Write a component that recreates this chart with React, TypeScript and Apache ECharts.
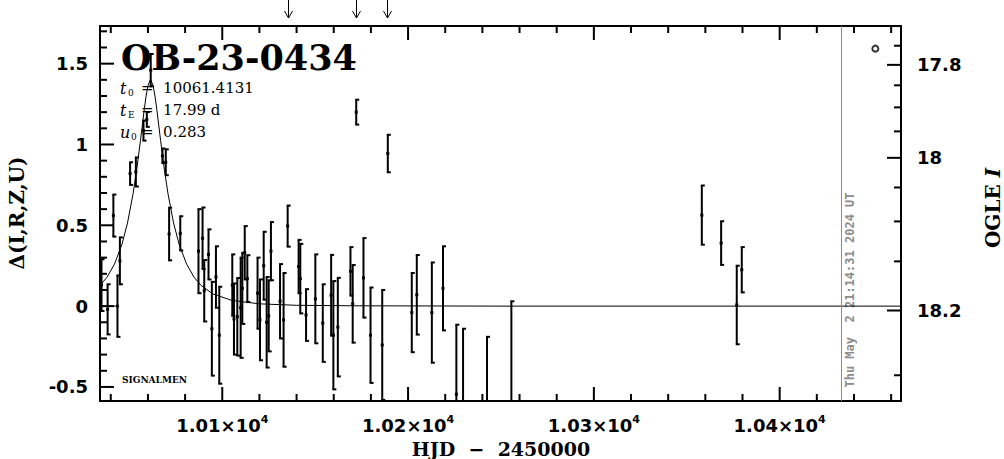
import React, { useEffect, useRef } from 'react';
import * as echarts from 'echarts';

// ---- axis ranges ----
const X_MIN = 10034.2;
const X_MAX = 10465.3;
const Y_MIN = -0.587;
const Y_MAX = 1.733;

// ---- ticks ----
const X_MAJOR = [10100, 10200, 10300, 10400];
const X_MINOR = [10040, 10060, 10080, 10120, 10140, 10160, 10180, 10220, 10240, 10260, 10280, 10320, 10340, 10360, 10380, 10420, 10440, 10460];
const Y_MAJOR = [-0.5, 0, 0.5, 1, 1.5];
const Y_MINOR = [-0.4, -0.3, -0.2, -0.1, 0.1, 0.2, 0.3, 0.4, 0.6, 0.7, 0.8, 0.9, 1.1, 1.2, 1.3, 1.4, 1.6, 1.7];
const MAG_MAJOR = [17.8, 18, 18.2];
const MAG_MINOR = [17.75, 17.85, 17.9, 17.95, 18.05, 18.1, 18.15, 18.25];
// right-axis scale: OGLE I magnitude vs. Δ (blended source)
const MAG_BASE = 18.196;
const SRC_FRAC = 0.149;

// ---- photometry (HJD-2450000, Δ mag, error) ----
const OBS_T = [
  10035.0, 10038.3, 10041.4, 10043.6, 10044.9, 10050.4, 10053.5, 10057.6, 10059.4, 10061.5,
  10067.8, 10069.6, 10071.4, 10077.4, 10087.2, 10089.4, 10090.3, 10092.6, 10094.4, 10096.6,
  10098.4, 10105.4, 10106.3, 10108.1, 10109.9, 10110.8, 10112.1, 10113.5, 10119.0, 10120.3,
  10122.3, 10123.9, 10125.0, 10126.2, 10131.1, 10133.0, 10135.2, 10141.1, 10142.0, 10145.1,
  10150.1, 10154.1, 10158.6, 10159.8, 10162.2, 10169.0, 10170.2, 10172.1, 10176.0, 10179.8,
  10186.1, 10189.1, 10202.0, 10204.7, 10212.8, 10218.8, 10226.0, 10229.6, 10242.5, 10255.6,
  10358.1, 10368.5, 10376.9, 10379.6,
];
const OBS_D = [
  0.13, -0.02, 0.56, 0.0, 0.28, 0.82, 0.83, 1.086, 1.155, 1.46,
  0.93, 0.89, 0.446, 0.45, 0.34, 0.42, 0.095, 0.32, -0.14, 0.18,
  -0.18, 0.13, -0.08, -0.066, -0.01, 0.11, 0.33, 0.17, 0.08, -0.085,
  0.25, -0.1, -0.06, 0.34, 0.03, -0.085, 0.495, 0.245, 0.17, -0.055,
  0.045, -0.105, 0.067, -0.18, -0.13, 0.215, 0.014, 1.2, 0.175, -0.18,
  -0.24, 0.944, -0.04, 0.07, -0.04, 0.11, -0.545, -0.62, -0.65, -0.6,
  0.563, 0.39, 0.007, 0.225,
];
const OBS_E = [
  0.16, 0.155, 0.13, 0.19, 0.145, 0.07, 0.09, 0.062, 0.046, 0.1,
  0.045, 0.08, 0.163, 0.106, 0.26, 0.19, 0.19, 0.155, 0.29, 0.19,
  0.3, 0.19, 0.22, 0.24, 0.31, 0.22, 0.165, 0.145, 0.22, 0.25,
  0.21, 0.28, 0.22, 0.18, 0.23, 0.29, 0.127, 0.165, 0.215, 0.16,
  0.275, 0.24, 0.25, 0.335, 0.305, 0.15, 0.24, 0.077, 0.246, 0.295,
  0.34, 0.116, 0.245, 0.246, 0.31, 0.26, 0.43, 0.48, 0.46, 0.63,
  0.183, 0.135, 0.243, 0.14,
];

// ---- model curve ----
const MODEL_T = [
  10034.2, 10038, 10042, 10046, 10049, 10052, 10054, 10056, 10057, 10058, 10059, 10060, 10061.4,
  10062.8, 10063.8, 10064.8, 10065.8, 10066.8, 10068.8, 10070.8, 10073.8, 10076.8, 10080.8,
  10084.8, 10088.6, 10095, 10105, 10120, 10140, 10170, 10250, 10465.3,
];
const MODEL_D = [
  0.128, 0.179, 0.26, 0.382, 0.514, 0.695, 0.848, 1.026, 1.121, 1.215, 1.299, 1.364, 1.403,
  1.364, 1.299, 1.215, 1.121, 1.026, 0.848, 0.695, 0.514, 0.382, 0.26,
  0.179, 0.128, 0.075, 0.036, 0.014, 0.005, 0.002, 0.0, 0.0,
];
const BASE_T = [10034.2, 10043.4];
const BASE_D = [0, 0];

const EXTRA_T = [10451.5];
const EXTRA_D = [1.593];
const ARROW_T = [10135.6, 10172.1, 10188.6];
const NOW_T = 10433.3;

const TITLE = 'OB-23-0434';
const STAMP = 'Thu May  2 21:14:31 2024 UT';

function magToDelta(m: number): number {
  const f = Math.pow(10, -0.4 * (m - MAG_BASE));
  return 2.5 * Math.log10((f - (1 - SRC_FRAC)) / SRC_FRAC);
}

const LABEL_FONT = 'DejaVu Sans';
const MAJOR_LEN = 14;
const MINOR_LEN = 7;
// interior anchors used to place frame ticks along one coordinate
const X_ANCHOR = 10250;
const Y_ANCHOR = 0.5;
const FALLBACK_CS = { x: 100, y: 26, width: 801, height: 375 };

export default function App() {
  const ref = useRef<HTMLDivElement>(null);
  useEffect(() => {
    if (!ref.current) return;
    const chart = echarts.init(ref.current, undefined, { renderer: 'svg' });
    const magMajorD = MAG_MAJOR.map(magToDelta);
    const magMinorD = MAG_MINOR.map(magToDelta);
    const model = MODEL_T.map((t, i) => [t, MODEL_D[i]]);
    const base = BASE_T.map((t, i) => [t, BASE_D[i]]);
    const extra = EXTRA_T.map((t, i) => [t, EXTRA_D[i]]);
    const obs = OBS_T.map((t, i) => [t, OBS_D[i], OBS_E[i]]);

    const xTicks = [
      ...X_MAJOR.map((v) => [v, Y_ANCHOR, MAJOR_LEN]),
      ...X_MINOR.map((v) => [v, Y_ANCHOR, MINOR_LEN]),
    ];
    const leftTicks = [
      ...Y_MAJOR.map((v) => [X_ANCHOR, v, MAJOR_LEN]),
      ...Y_MINOR.map((v) => [X_ANCHOR, v, MINOR_LEN]),
    ];
    const rightTicks = [
      ...magMajorD.map((v) => [X_ANCHOR, v, MAJOR_LEN]),
      ...magMinorD.map((v) => [X_ANCHOR, v, MINOR_LEN]),
    ];

    const tickSeries = (data: number[][], side: 'x' | 'left' | 'right') => ({
      type: 'custom',
      data,
      clip: false,
      silent: true,
      z: 5,
      renderItem: (params: any, api: any) => {
        const cs = params.coordSys || FALLBACK_CS;
        const p = api.coord([api.value(0), api.value(1)]);
        const len = api.value(2);
        const fill = { fill: '#000' };
        if (side === 'x') {
          return {
            type: 'group',
            children: [
              { type: 'rect', shape: { x: p[0] - 1, y: cs.y + cs.height - len, width: 2, height: len }, style: fill },
              { type: 'rect', shape: { x: p[0] - 1, y: cs.y, width: 2, height: len }, style: fill },
            ],
          };
        }
        if (side === 'left') {
          return {
            type: 'group',
            children: [{ type: 'rect', shape: { x: cs.x, y: p[1] - 1, width: len, height: 2 }, style: fill }],
          };
        }
        return {
          type: 'group',
          children: [{ type: 'rect', shape: { x: cs.x + cs.width - len, y: p[1] - 1, width: len, height: 2 }, style: fill }],
        };
      },
    });

    const lineStyle = { color: '#000', width: 2 };

    const option: any = {
      animation: false,
      backgroundColor: '#fff',
      grid: { left: 100, right: 103, top: 26, bottom: 58, containLabel: false, outerBoundsMode: 'none' },
      xAxis: [
        {
          type: 'value', position: 'bottom', min: X_MIN, max: X_MAX,
          axisLine: { show: true, onZero: false, lineStyle },
          axisTick: { show: false },
          splitLine: { show: false },
          axisLabel: {
            show: true,
            customValues: X_MAJOR,
            margin: 13,
            formatter: (v: number) => `{m|${(v / 10000).toFixed(2)}×10}{s|4}`,
            rich: {
              m: { fontSize: 18, fontWeight: 'bold', fontFamily: LABEL_FONT, color: '#000', lineHeight: 22 },
              s: { fontSize: 11, fontWeight: 'bold', fontFamily: LABEL_FONT, color: '#000', lineHeight: 12, verticalAlign: 'top' },
            },
          },
        },
        {
          type: 'value', position: 'top', min: X_MIN, max: X_MAX,
          axisLine: { show: true, onZero: false, lineStyle },
          axisTick: { show: false },
          axisLabel: { show: false },
          splitLine: { show: false },
        },
      ],
      yAxis: [
        {
          type: 'value', position: 'left', min: Y_MIN, max: Y_MAX,
          axisLine: { show: true, onZero: false, lineStyle },
          axisTick: { show: false },
          splitLine: { show: false },
          axisLabel: {
            show: true, customValues: Y_MAJOR, margin: 12,
            fontSize: 18, fontWeight: 'bold', fontFamily: LABEL_FONT, color: '#000',
            formatter: (v: number) => String(v),
          },
        },
        {
          type: 'value', position: 'right', min: Y_MIN, max: Y_MAX,
          axisLine: { show: true, onZero: false, lineStyle },
          axisTick: { show: false },
          splitLine: { show: false },
          axisLabel: {
            show: true, customValues: magMajorD, margin: 16,
            fontSize: 18, fontWeight: 'bold', fontFamily: LABEL_FONT, color: '#000',
            formatter: (v: number) => {
              const i = magMajorD.findIndex((d) => Math.abs(d - v) < 1e-9);
              return i >= 0 ? String(MAG_MAJOR[i]) : '';
            },
          },
        },
      ],
      series: [
        {
          type: 'line',
          data: model,
          showSymbol: false,
          symbol: 'none',
          clip: true,
          lineStyle: { color: '#000', width: 1 },
          silent: true,
          markLine: {
            silent: true,
            symbol: ['none', 'none'],
            label: { show: false },
            lineStyle: { color: '#8c8c8c', width: 1, type: 'solid' },
            data: [{ xAxis: NOW_T }],
          },
        },
        {
          type: 'line',
          data: base,
          showSymbol: false,
          symbol: 'none',
          lineStyle: { color: '#000', width: 1 },
          silent: true,
        },
        {
          type: 'custom',
          data: obs,
          clip: true,
          silent: true,
          renderItem: (params: any, api: any) => {
            const x = api.value(0);
            const v = api.value(1);
            const a = api.value(2);
            const st = { stroke: '#000', lineWidth: 2 };
            const top = api.coord([x, v + a]);
            const bot = api.coord([x, v - a]);
            const mid = api.coord([x, v]);
            return {
              type: 'group',
              children: [
                { type: 'line', shape: { x1: top[0], y1: top[1], x2: bot[0], y2: bot[1] }, style: st },
                { type: 'line', shape: { x1: top[0] - 1, y1: top[1], x2: top[0] + 3, y2: top[1] }, style: st },
                { type: 'line', shape: { x1: bot[0] - 1, y1: bot[1], x2: bot[0] + 3, y2: bot[1] }, style: st },
                { type: 'rect', shape: { x: mid[0] - 1.5, y: mid[1] - 1.5, width: 3, height: 3 }, style: { fill: '#000' } },
              ],
            };
          },
        },
        tickSeries(xTicks, 'x'),
        tickSeries(leftTicks, 'left'),
        tickSeries(rightTicks, 'right'),
        {
          type: 'scatter',
          data: extra,
          symbol: 'circle',
          symbolSize: 6,
          silent: true,
          itemStyle: { color: '#fff', borderColor: '#000', borderWidth: 2 },
        },
      ],
    };
    chart.setOption(option);

    const pt = (t: number, v: number) => chart.convertToPixel({ gridIndex: 0 }, [t, v]) as number[];
    const serif = '"DejaVu Serif"';
    const graphics: any[] = [];

    ARROW_T.forEach((t) => {
      const x = Math.round(pt(t, 0)[0]) + 0.5;
      graphics.push({ type: 'line', shape: { x1: x, y1: 0, x2: x, y2: 18 }, style: { stroke: '#000', lineWidth: 1 } });
      graphics.push({ type: 'polyline', shape: { points: [[x - 4, 11], [x, 18], [x + 4, 11]] }, style: { stroke: '#000', lineWidth: 1, fill: 'none' } });
    });
    const nowX = pt(NOW_T, 0)[0];
    graphics.push({
      type: 'text', x: nowX + 8, y: 290, rotation: Math.PI / 2,
      style: { text: STAMP, font: 'bold 12px "DejaVu Sans Mono"', fill: '#8c8c8c', align: 'center', verticalAlign: 'middle' },
    });
    graphics.push({
      type: 'text', x: 121, y: 57,
      style: { text: TITLE, font: `bold 35px ${serif}`, fill: '#000', align: 'left', verticalAlign: 'middle' },
    });
    const param = (y: number, sym: string, sub: string, subX: number, rest: string) => {
      graphics.push({ type: 'text', x: 120, y, style: { text: sym, font: `italic 16px ${serif}`, fill: '#000', align: 'left', verticalAlign: 'middle' } });
      graphics.push({ type: 'text', x: subX, y: y + 5, style: { text: sub, font: `9px ${serif}`, fill: '#000', align: 'left', verticalAlign: 'middle' } });
      graphics.push({ type: 'text', x: 141, y, style: { text: rest, font: `15px ${serif}`, fill: '#000', align: 'left', verticalAlign: 'middle' } });
    };
    param(88, 't', '0', 128, '=  10061.4131');
    param(110, 't', 'E', 128, '=  17.99 d');
    param(132, 'u', '0', 131, '=  0.283');
    graphics.push({
      type: 'text', x: 122, y: 380,
      style: { text: 'SIGNALMEN', font: `bold 9px ${serif}`, fill: '#000', align: 'left', verticalAlign: 'middle' },
    });
    graphics.push({
      type: 'text', x: 17, y: 213, rotation: Math.PI / 2,
      style: { text: 'Δ(I,R,Z,U)', font: `bold 20px ${serif}`, fill: '#000', align: 'center', verticalAlign: 'middle' },
    });
    graphics.push({
      type: 'text', x: 993, y: 208, rotation: Math.PI / 2,
      style: {
        text: 'OGLE {i|I}', font: `bold 20px ${serif}`, fill: '#000', align: 'center', verticalAlign: 'middle',
        rich: { i: { fontStyle: 'italic', fontWeight: 'bold', fontSize: 20, fontFamily: 'DejaVu Serif' } },
      },
    });
    graphics.push({
      type: 'text', x: 501, y: 449,
      style: { text: 'HJD  −  2450000', font: `bold 19px ${serif}`, fill: '#000', align: 'center', verticalAlign: 'middle' },
    });
    chart.setOption({ graphic: graphics });

    return () => chart.dispose();
  }, []);
  return (
    <div
      ref={ref}
      style={{ position: 'fixed', left: 0, top: 0, width: 1004, height: 459, background: '#fff' }}
    />
  );
}
